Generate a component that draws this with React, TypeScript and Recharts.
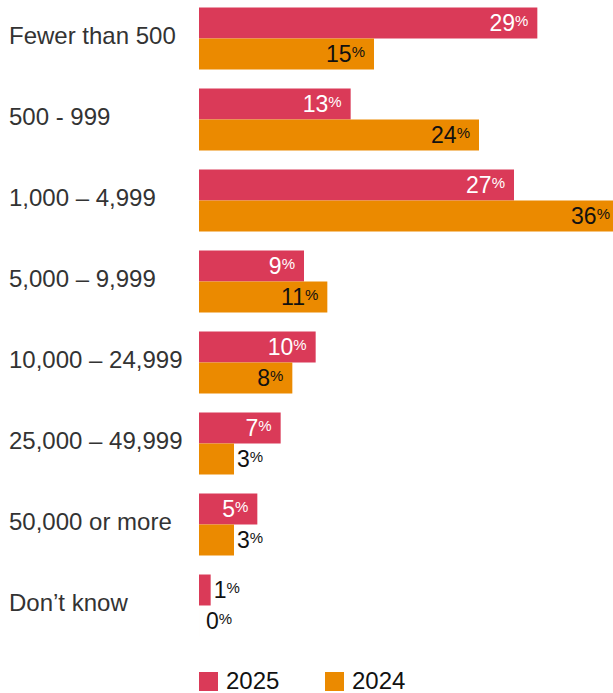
import React from "react";
import { Bar, BarChart, LabelList, XAxis, YAxis } from "recharts";

const categories = [
  "Fewer than 500",
  "500 - 999",
  "1,000 – 4,999",
  "5,000 – 9,999",
  "10,000 – 24,999",
  "25,000 – 49,999",
  "50,000 or more",
  "Don’t know",
];
const values2025 = [29, 13, 27, 9, 10, 7, 5, 1];
const values2024 = [15, 24, 36, 11, 8, 3, 3, 0];

const RED = "#DA3A58";
const ORANGE = "#EB8A00";
const FONT = "Helvetica, Arial, 'Liberation Sans', sans-serif";

const data = categories.map((name, i) => ({
  name,
  y2025: values2025[i],
  y2024: values2024[i],
}));

// zero-value bars get a hair of width so their label is still drawn
const keepZero = (value: any) => (Number(value) === 0 ? 0.01 : 0);

// label at the end of the bar: inside when there is room, outside otherwise
const valueLabel = (insideColor: string) => (props: any) => {
  const x = Number(props.x);
  const y = Number(props.y);
  const width = Number(props.width) || 0;
  const height = Number(props.height);
  const value = Number(props.value);
  const inside = value >= 5;
  const end = x + width;
  const tx = inside ? end - 9 : Math.max(end, 203) + 3;
  const ty = y + height / 2 + 8;
  return (
    <text
      x={tx}
      y={ty}
      textAnchor={inside ? "end" : "start"}
      fill={inside ? insideColor : "#111"}
      fontFamily={FONT}
    >
      <tspan fontSize={23}>{value}</tspan>
      <tspan fontSize={15} dy={-5}>
        %
      </tspan>
    </text>
  );
};

const CategoryTick = (props: any) => {
  const { y, payload } = props;
  return (
    <text x={9} y={Number(y) + 6} fill="#333" fontSize={24} fontFamily={FONT}>
      {payload.value}
    </text>
  );
};

const LegendItem = ({ color, label, left }: { color: string; label: string; left: number }) => (
  <div
    style={{
      position: "absolute",
      left,
      top: 667,
      display: "flex",
      alignItems: "center",
      fontFamily: FONT,
      fontSize: 24,
      color: "#111",
    }}
  >
    <div style={{ width: 19, height: 19, background: color, marginRight: 8 }} />
    <span>{label}</span>
  </div>
);

export default function App() {
  return (
    <div
      style={{
        position: "absolute",
        left: 0,
        top: 0,
        width: 613,
        height: 693,
        overflow: "hidden",
        background: "#fff",
      }}
    >
      <BarChart
        width={620}
        height={693}
        data={data}
        layout="vertical"
        barSize={31}
        barGap={0}
        margin={{ top: -2.5, right: 1, bottom: 47.5, left: 0 }}
      >
        <XAxis type="number" domain={[0, 36]} hide />
        <YAxis
          type="category"
          dataKey="name"
          width={199}
          axisLine={false}
          tickLine={false}
          tick={<CategoryTick />}
          interval={0}
        />
        <Bar dataKey="y2025" fill={RED} isAnimationActive={false} minPointSize={keepZero}>
          <LabelList dataKey="y2025" content={valueLabel("#fff")} />
        </Bar>
        <Bar dataKey="y2024" fill={ORANGE} isAnimationActive={false} minPointSize={keepZero}>
          <LabelList dataKey="y2024" content={valueLabel("#111")} />
        </Bar>
      </BarChart>
      <LegendItem color={RED} label="2025" left={199} />
      <LegendItem color={ORANGE} label="2024" left={325} />
    </div>
  );
}
